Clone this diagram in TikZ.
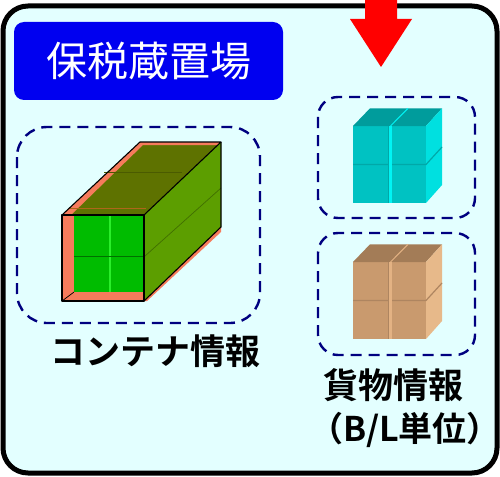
\documentclass[tikz,border=0pt]{standalone}
\usepackage{fontspec}
\newfontfamily\cjk{Noto Sans CJK JP}
\newfontfamily\cjkbold{Noto Sans CJK JP Bold}
\definecolor{areafill}{HTML}{E3FFFF}
\definecolor{titleblue}{HTML}{0000F0}
\definecolor{dashnavy}{HTML}{000080}
\definecolor{arrowred}{HTML}{FF0000}
% container colours
\definecolor{ctsalmon}{HTML}{F67B5C}
\definecolor{ctedge}{HTML}{FF5A34}
\definecolor{cttop}{HTML}{5E7200}
\definecolor{ctside}{HTML}{5C9E00}
\definecolor{ctfront}{HTML}{00BC00}
\definecolor{ctseam}{HTML}{2AEE2A}
% cyan box stack
\definecolor{cyfront}{HTML}{00C2C2}
\definecolor{cytop}{HTML}{009C9C}
\definecolor{cyside}{HTML}{00E0E0}
\definecolor{cyseam}{HTML}{00F4F4}
\definecolor{cydark}{HTML}{00A8A8}
% brown box stack
\definecolor{brfront}{HTML}{C99A6E}
\definecolor{brtop}{HTML}{A37C57}
\definecolor{brside}{HTML}{E7B98A}
\definecolor{brseam}{HTML}{E3B283}
\definecolor{brdark}{HTML}{AE8560}
\tikzset{
  areabox/.style={draw=black, line width=5pt, fill=areafill, rounded corners=25pt},
  titlebox/.style={fill=titleblue, rounded corners=10pt, minimum width=269pt, minimum height=78pt,
    text=white, font=\cjk\fontsize{41}{41}\selectfont, inner sep=0pt},
  groupbox/.style={draw=dashnavy, line width=2.4pt, dash pattern=on 11pt off 7pt},
  caption/.style={font=\cjkbold\fontsize{35}{35}\selectfont, text=black, inner sep=0pt},
  outline/.style={draw=black, line width=1.1pt, line join=round},
}
% 2x2 stack of boxes: front corner (#1,#2), colours front/top/side/seam/dark
\newcommand\boxstack[7]{%
  \begin{scope}[shift={(#1,#2)}]
    \fill[#3] (0,0) rectangle (73,77);
    \fill[#4] (0,0) -- (17,-17.7) -- (89,-17.7) -- (73,0) -- cycle;
    \fill[#5] (73,0) -- (89,-17.7) -- (89,59) -- (73,77) -- cycle;
    % seams between the four boxes
    \draw[#7, line width=1.2pt] (0,38.5) -- (73,38.5) -- (89,21);
    \draw[#6, line width=2.2pt] (37.5,0) -- (37.5,77);
    \draw[#6, line width=1pt] (37.5,0) -- (55,-17.7);
    \draw[#7, line width=0.8pt] (35.8,0) -- (35.8,77);
  \end{scope}}
\begin{document}
\begin{tikzpicture}[x=1pt,y=-1pt]
\useasboundingbox (0,0) rectangle (500,476);
% bonded storage area
\draw[areabox] (3,6) rectangle (497,473);
\node[titlebox] (title) at (148.5,61) {保税蔵置場};

% incoming arrow
\fill[arrowred] (365,0) -- (397,0) -- (397,19) -- (412,19) -- (381,67) -- (350,19) -- (365,19) -- cycle;

% dashed groups
\draw[groupbox, rounded corners=30pt] (17,127) rectangle (260,323);
\draw[groupbox, rounded corners=20pt] (318,97) rectangle (475,218);
\draw[groupbox, rounded corners=20pt] (318,233) rectangle (475,355);

% container
\fill[ctsalmon] (62,215) rectangle (144,301);
\fill[ctfront] (74,215) rectangle (144,292);
\draw[ctseam, line width=2.5pt] (110,215) -- (110,292);
\draw[black!40!ctfront, line width=0.8pt] (74,256) -- (144,256);
\draw[black, line width=0.7pt] (62,301) -- (74,292);
\fill[cttop] (62,215) -- (140,142) -- (221,142) -- (144,215) -- cycle;
\fill[ctsalmon] (62,215) -- (140,142) -- (221,142) -- (218,145) -- (143,145) -- (71,215) -- cycle;
\fill[ctside] (144,215) -- (221,142) -- (221,227) -- (144,301) -- cycle;
\fill[ctsalmon] (144,301) -- (221,227) -- (221,232) -- (147,301) -- cycle;
\draw[black!30!ctside, line width=0.7pt] (145,256) -- (221,188);
\draw[ctedge!50!cttop, line width=0.6pt] (70,208) -- (146,208);
\draw[black!20!cttop, line width=0.6pt] (104,172) -- (182,172);
\draw[outline] (62,215) rectangle (144,301);
\draw[outline] (62,215) -- (140,142) -- (221,142) -- (144,215);
\draw[outline] (221,142) -- (221,227) -- (144,301);

% cargo box stacks
\boxstack{353}{126}{cyfront}{cytop}{cyside}{cyseam}{cydark}
\boxstack{353}{262}{brfront}{brtop}{brside}{brseam}{brdark}

% captions
\node[caption] (ctlabel) at (155,351) {コンテナ情報};
\node[caption] (cargolabel) at (393,385) {貨物情報};
\node[caption, font=\cjkbold\fontsize{34}{34}\selectfont] (bllabel) at (405,430) {（B/L単位）};
\end{tikzpicture}
\end{document}
